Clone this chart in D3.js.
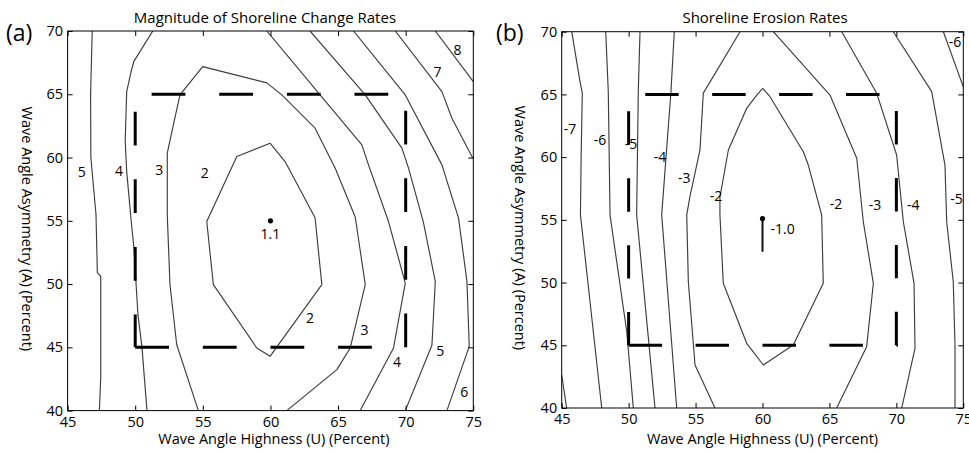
<!DOCTYPE html>
<html><head><meta charset="utf-8">
<script src="https://cdn.jsdelivr.net/npm/d3@7"></script>
<style>
body{margin:0;background:#fff}
svg{display:block}
text{font-family:"Open Sans",sans-serif;fill:#000}
</style>
</head><body>
<svg id="chart" width="969" height="454"></svg>
<script>
// ---------- shared axis data ----------
const uTicks = [45, 50, 55, 60, 65, 70, 75];
const aTicks = [40, 45, 50, 55, 60, 65, 70];
const uDomain = [45, 75];
const aDomain = [40, 70];
const boxU = [50, 70];
const boxA = [45, 65];

// ---------- panel (a): magnitude contours, [U, A] in percent ----------
const mag5L = [[46.82,70],[46.7,65],[46.72,60],[47.1,55.5],[47.2,50.9],[47.45,50.6],[47.45,42.6],[47.35,40]];
const mag4L = [[51.3,70],[49.9,67.6],[49.7,66.8],[49.37,65.2],[49.26,61.3],[49.37,58.9],[49.7,55],[49.9,52.9],[50.2,47.6],[50.5,45],[50.87,40]];
const mag3  = [[54.67,40],[53.07,45.2],[52.57,49.95],[52.37,55.47],[52.37,60.34],[52.82,62.58],[53.31,64.95],[54.99,67.18],[59.73,65.9],[60.84,64.95],[63.3,62.32],[64.79,59.16],[66.27,55.3],[67.01,49.95],[65.9,44.95],[64.91,43.24],[61.21,40]];
const mag2  = [[59.97,61.13],[61.08,59.68],[63.3,55.24],[63.8,49.95],[59.97,44.29],[58.99,44.95],[55.78,49.95],[55.29,54.94],[57.51,60.08],[59.97,61.13]];
const mag4R = [[59.73,70],[63.67,64.95],[66.76,61.0],[67.25,59.42],[68.73,54.94],[69.97,50.08],[69.1,44.95],[66.64,40]];
const mag5R = [[62.93,70],[67.01,64.95],[69.72,60.74],[70.21,59.16],[71.3,54.94],[72.19,50.21],[71.94,45.16],[69.97,40]];
const mag6  = [[66.14,70],[69.97,64.95],[72.68,59.42],[73.91,55.21],[74.53,50.21],[74.7,45.08],[73.05,40]];
const mag7  = [[69.23,70],[72.68,65.21],[73.42,63.1],[74.9,60.08],[75,59.95]];
const mag8  = [[72.19,70],[75,66.0]];
const magMinU = 60, magMinA = 55, magMinText = "1.1";

const magLabelText = ["5","4","3","2","8","7","2","3","4","5","6"];
const magLabelU    = [46.04,48.8,51.78,55.14,73.84,72.36,62.93,66.95,69.35,72.56,74.33];
const magLabelA    = [58.89,58.97,59.03,58.79,68.5,66.79,47.32,46.39,43.89,44.77,41.53];

// ---------- panel (b): erosion contours ----------
const er8  = [[45,42.63],[45.37,40]];
const er7  = [[45.75,70],[46.37,66.0],[46.54,65.1],[46.45,60],[46.4,55.4],[47.99,40]];
const er6  = [[48.29,70],[48.48,65.2],[48.61,55.4],[49.86,46.08],[50.35,40]];
const er5  = [[50.85,70],[50.72,65.2],[50.6,55.4],[51.97,40]];
const er4  = [[53.41,70],[53.16,65.2],[52.47,55.4],[53.59,40]];
const er3L = [[58.32,70],[55.58,65.1],[55.33,60.57],[54.58,56.85],[54.34,55.4],[54.46,50.07],[54.96,43.43],[56.45,40]];
const er3R = [[60.81,70],[65.04,64.95],[67.04,59.91],[67.53,54.85],[68.28,49.94],[67.78,44.89],[65.54,40]];
const er2  = [[60.02,65.49],[59.57,64.95],[58.82,63.89],[57.45,60.57],[56.82,56.8],[56.82,55.4],[57.07,49.94],[58.82,45.16],[60.06,43.43],[62.3,45.02],[64.54,49.94],[64.42,55.39],[63.42,59.37],[63.05,60.43],[60.56,64.82],[60.02,65.49]];
const er4R = [[65.92,70],[68.53,65.1],[70.02,60.17],[70.52,54.85],[71.32,49.94],[71.39,44.76],[70.4,40]];
const er5R = [[69.77,70],[72.64,65.22],[73.63,59.37],[73.76,54.85],[74.25,50.07],[74.38,45.02],[74.38,40]];
const er6R = [[73.51,70],[75,65.6]];
const er1  = [[60,55.1],[60,52.45]];
const erMinU = 60, erMinA = 55.1, erMinText = "-1.0";
const erMinLabelU = 60.6, erMinLabelA = 54.3;

const erLabelText = ["-7","-6","-5","-4","-3","-2","-6","-2","-3","-4","-5"];
const erLabelU    = [45.62,47.86,50.18,52.35,54.16,56.53,74.38,65.49,68.4,71.26,74.5];
const erLabelA    = [62.3,61.37,61.1,60.03,58.36,56.92,69.2,56.32,56.24,56.24,56.72];

// ---------- drawing ----------
const svg = d3.select("#chart");

const panels = [
  { tag:"(a)", title:"Magnitude of Shoreline Change Rates",
    box:{l:67.6, r:473.3, t:31, b:410.6}, tagX:6, ylabX:27.5, titleDx:-5.5, xlabDx:3.5,
    contours:[mag5L,mag4L,mag3,mag2,mag4R,mag5R,mag6,mag7,mag8],
    labelText:magLabelText, labelU:magLabelU, labelA:magLabelA,
    minU:magMinU, minA:magMinA, minText:magMinText, minLine:null },
  { tag:"(b)", title:"Shoreline Erosion Rates",
    box:{l:561.7, r:963.3, t:31.7, b:408}, tagX:496, ylabX:520.5, titleDx:2.5, xlabDx:0,
    contours:[er8,er7,er6,er5,er4,er3L,er3R,er2,er4R,er5R,er6R],
    labelText:erLabelText, labelU:erLabelU, labelA:erLabelA,
    minU:erMinU, minA:erMinA, minText:erMinText, minLine:er1 }
];

panels.forEach((p, i) => {
  const x = d3.scaleLinear().domain(uDomain).range([p.box.l, p.box.r]);
  const y = d3.scaleLinear().domain(aDomain).range([p.box.b, p.box.t]);
  const g = svg.append("g");
  const clipId = "clip" + i;
  g.append("clipPath").attr("id", clipId).append("rect")
    .attr("x", p.box.l).attr("y", p.box.t)
    .attr("width", p.box.r - p.box.l).attr("height", p.box.b - p.box.t);

  const line = d3.line().x(d => x(d[0])).y(d => y(d[1]));
  const plot = g.append("g").attr("clip-path", `url(#${clipId})`);

  // contours
  plot.selectAll("path.c").data(p.contours).join("path")
    .attr("class","c").attr("d", line)
    .attr("fill","none").attr("stroke","#3c3c3c").attr("stroke-width",1.15)
    .attr("stroke-linejoin","round");

  // dashed box
  const boxPts = [[boxU[0],boxA[0]],[boxU[1],boxA[0]],[boxU[1],boxA[1]],[boxU[0],boxA[1]],[boxU[0],boxA[0]]];
  const dash = x(boxU[0] + 2.5) - x(boxU[0]);
  plot.append("path").attr("d", line(boxPts))
    .attr("fill","none").attr("stroke","#000").attr("stroke-width",3)
    .attr("stroke-dasharray", `${dash},${dash}`).attr("stroke-linecap","butt");

  // minimum marker
  if (p.minLine) {
    plot.append("path").attr("d", line(p.minLine)).attr("fill","none")
      .attr("stroke","#111").attr("stroke-width",2);
  }
  plot.append("circle").attr("cx", x(p.minU)).attr("cy", y(p.minA)).attr("r", 2.6).attr("fill","#000");

  // contour labels
  const lbl = p.labelText.map((t, k) => ({t, u:p.labelU[k], a:p.labelA[k]}));
  g.selectAll("text.cl").data(lbl).join("text").attr("class","cl")
    .attr("x", d => x(d.u)).attr("y", d => y(d.a))
    .attr("text-anchor","middle").attr("dominant-baseline","central")
    .attr("font-size", 14).text(d => d.t);

  if (!p.minLine) {
    g.append("text").attr("x", x(p.minU)).attr("y", y(p.minA) + 12.5)
      .attr("text-anchor","middle").attr("dominant-baseline","central")
      .attr("font-size",14).text(p.minText);
  } else {
    g.append("text").attr("x", x(erMinLabelU)).attr("y", y(erMinLabelA))
      .attr("text-anchor","start").attr("dominant-baseline","central")
      .attr("font-size",14).text(p.minText);
  }

  // axes (ticks inward on all four sides)
  const tl = 5;
  const bottom = d3.axisBottom(x).tickValues(uTicks).tickSizeInner(-tl).tickSizeOuter(0).tickPadding(6);
  const top = d3.axisTop(x).tickValues(uTicks).tickSizeInner(-tl).tickSizeOuter(0).tickFormat("");
  const left = d3.axisLeft(y).tickValues(aTicks).tickSizeInner(-tl).tickSizeOuter(0).tickPadding(4.5);
  const right = d3.axisRight(y).tickValues(aTicks).tickSizeInner(-tl).tickSizeOuter(0).tickFormat("");

  const styleAxis = sel => {
    sel.select(".domain").remove();
    sel.selectAll("line").attr("stroke","#000").attr("stroke-width",1);
    sel.selectAll("text").attr("font-size",14.5).attr("font-family","Open Sans").attr("fill","#000");
  };
  g.append("g").attr("transform",`translate(0,${p.box.b})`).call(bottom).call(styleAxis);
  g.append("g").attr("transform",`translate(0,${p.box.t})`).call(top).call(styleAxis);
  g.append("g").attr("transform",`translate(${p.box.l},0)`).call(left).call(styleAxis);
  g.append("g").attr("transform",`translate(${p.box.r},0)`).call(right).call(styleAxis);

  g.append("rect").attr("x", p.box.l).attr("y", p.box.t)
    .attr("width", p.box.r - p.box.l).attr("height", p.box.b - p.box.t)
    .attr("fill","none").attr("stroke","#000").attr("stroke-width",1);

  // titles and axis labels
  const cx = (p.box.l + p.box.r) / 2;
  g.append("text").attr("x", cx + p.titleDx).attr("y", 23).attr("text-anchor","middle")
    .attr("font-size",15).text(p.title);
  g.append("text").attr("x", cx + p.xlabDx).attr("y", 444).attr("text-anchor","middle")
    .attr("font-size",14.5).text("Wave Angle Highness (U) (Percent)");
  g.append("text").attr("transform",`translate(${p.ylabX},${(p.box.t+p.box.b)/2 + 8}) rotate(90)`)
    .attr("text-anchor","middle").attr("dominant-baseline","central")
    .attr("font-size",14.5).text("Wave Angle Asymmetry (A) (Percent)");
  g.append("text").attr("x", p.tagX).attr("y", 41).attr("font-size",23).text(p.tag);
});
</script>
</body></html>
